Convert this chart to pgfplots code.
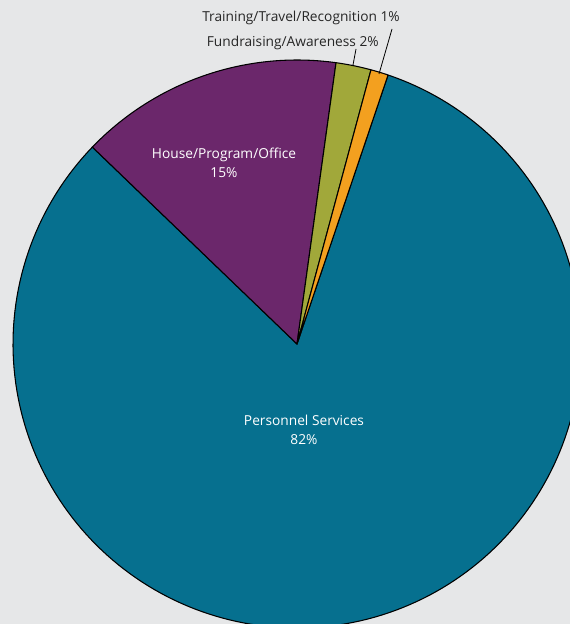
\documentclass[border=0pt]{standalone}
\usepackage{pgfplots}
\pgfplotsset{compat=1.18}
\usepackage{fontspec}
\setmainfont{Open Sans}
\definecolor{bg}{HTML}{E6E7E8}
\definecolor{cpers}{HTML}{06708F}
\definecolor{chouse}{HTML}{6B276B}
\definecolor{cfund}{HTML}{A1A83A}
\definecolor{ctrain}{HTML}{F3A01F}
\begin{document}
\begin{tikzpicture}
% shares in percent, counterclockwise from the start angle
\pgfmathsetmacro{\train}{1}
\pgfmathsetmacro{\fund}{2}
\pgfmathsetmacro{\house}{15}
\pgfmathsetmacro{\pers}{82}
\pgfmathsetmacro{\aA}{71.3}
\pgfmathsetmacro{\aB}{\aA+3.6*\train}
\pgfmathsetmacro{\aC}{\aB+3.6*\fund}
\pgfmathsetmacro{\aD}{\aC+3.6*\house}
\pgfmathsetmacro{\aE}{\aD+3.6*\pers}
\def\R{284}
\begin{axis}[
    scale only axis,
    width=427.5pt, height=468pt,
    xmin=-297, xmax=273, ymin=-280, ymax=344,
    axis background/.style={fill=bg},
    axis line style={draw=none},
    ticks=none,
    clip bounding box=upper bound,
    every axis plot/.append style={draw=black, line width=0.8pt, line join=round},
    ]
\addplot[fill=cpers, domain=\aD:\aE, samples=200] ({\R*cos(x)},{\R*sin(x)}) -- (axis cs:0,0) -- cycle;
\addplot[fill=chouse, domain=\aC:\aD, samples=60] ({\R*cos(x)},{\R*sin(x)}) -- (axis cs:0,0) -- cycle;
\addplot[fill=cfund, domain=\aB:\aC, samples=10] ({\R*cos(x)},{\R*sin(x)}) -- (axis cs:0,0) -- cycle;
\addplot[fill=ctrain, domain=\aA:\aB, samples=10] ({\R*cos(x)},{\R*sin(x)}) -- (axis cs:0,0) -- cycle;
% leader lines
\draw[black, line width=0.6pt] (axis cs:56,279) -- (axis cs:59,295);
\draw[black, line width=0.6pt] (axis cs:82,270) -- (axis cs:95,315);
\node[white, align=center, font=\fontsize{10.3}{14.5}\selectfont] at (axis cs:-73,181) {House/Program/Office\\15\%};
\node[white, align=center, font=\fontsize{10.3}{14.5}\selectfont] at (axis cs:7,-86) {Personnel Services\\82\%};
\node[anchor=east, text=black!85, font=\fontsize{10.3}{14.5}\selectfont, inner sep=0pt] at (axis cs:82,301) {Fundraising/Awareness 2\%};
\node[anchor=east, text=black!85, font=\fontsize{10.3}{14.5}\selectfont, inner sep=0pt] at (axis cs:103,326) {Training/Travel/Recognition 1\%};
\end{axis}
\end{tikzpicture}
\end{document}
